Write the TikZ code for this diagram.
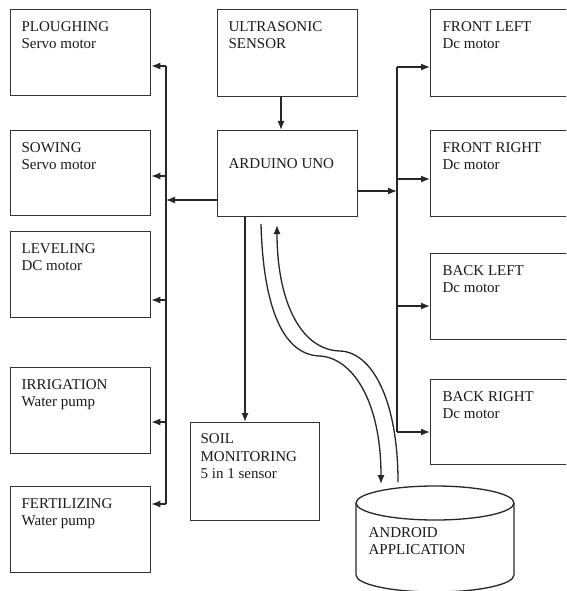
\documentclass[tikz,border=0pt]{standalone}
\usepackage{fontspec}
\setmainfont{Liberation Serif}
\usetikzlibrary{arrows.meta,calc}
\begin{document}
\begin{tikzpicture}[x=1pt,y=-1pt,line width=1.3pt,
  box/.style={draw=black!80, rectangle, inner sep=0pt, anchor=north west},
  txt/.style={inner sep=0pt, anchor=north west, align=left,
    font=\fontsize{15}{17.5}\selectfont, text=black!90},
  arr/.style={draw=black!85, -{Latex[length=9pt,width=7pt]}},
  ln/.style={draw=black!85}]
\useasboundingbox (0,0) rectangle (566,591);
\clip (0,0) rectangle (566,591);
% left column
\node[box, minimum width=140pt, minimum height=86pt] (plough) at (10,9) {};
\node[box, minimum width=140pt, minimum height=85pt] (sow) at (10,130) {};
\node[box, minimum width=140pt, minimum height=86pt] (level) at (10,231) {};
\node[box, minimum width=140pt, minimum height=86pt] (irrig) at (10,367) {};
\node[box, minimum width=140pt, minimum height=86pt] (fert) at (10,486) {};
% middle column
\node[box, minimum width=140pt, minimum height=87pt] (ultra) at (217,9) {};
\node[box, minimum width=140pt, minimum height=86pt] (ard) at (217,130) {};
\node[box, minimum width=129pt, minimum height=98pt] (soil) at (190,422) {};
% right column
\node[box, minimum width=150pt, minimum height=87pt] (fl) at (430,9) {};
\node[box, minimum width=150pt, minimum height=86pt] (fr) at (430,130) {};
\node[box, minimum width=150pt, minimum height=86pt] (bl) at (430,253) {};
\node[box, minimum width=150pt, minimum height=85pt] (br) at (430,379) {};
% texts
\node[txt] (tplough) at ([shift={(11,11.5)}]plough.north west) {PLOUGHING\\Servo motor};
\node[txt] (tsow) at ([shift={(11,11.5)}]sow.north west) {SOWING\\Servo motor};
\node[txt] (tlevel) at ([shift={(11,11.5)}]level.north west) {LEVELING\\DC motor};
\node[txt] (tirrig) at ([shift={(11,11.5)}]irrig.north west) {IRRIGATION\\Water pump};
\node[txt] (tfert) at ([shift={(11,11.5)}]fert.north west) {FERTILIZING\\Water pump};
\node[txt] (tultra) at ([shift={(11,11.5)}]ultra.north west) {ULTRASONIC\\SENSOR};
\node[txt] (tard) at ([shift={(11,28)}]ard.north west) {ARDUINO UNO};
\node[txt] (tsoil) at ([shift={(10,11)}]soil.north west) {SOIL\\MONITORING\\5 in 1 sensor};
\node[txt] (tfl) at ([shift={(12,11.5)}]fl.north west) {FRONT LEFT\\Dc motor};
\node[txt] (tfr) at ([shift={(12,11.5)}]fr.north west) {FRONT RIGHT\\Dc motor};
\node[txt] (tbl) at ([shift={(12,11.5)}]bl.north west) {BACK LEFT\\Dc motor};
\node[txt] (tbr) at ([shift={(12,11.5)}]br.north west) {BACK RIGHT\\Dc motor};
% android cylinder
\coordinate (andr) at (435,503);
\draw[ln] (andr) ellipse [x radius=79, y radius=17];
\draw[ln] (356,503) -- (356,575)
  .. controls (356,584.4) and (391.4,592) .. (435,592)
  .. controls (478.6,592) and (514,584.4) .. (514,575) -- (514,503);
\node[txt] (tandr) at (368,526.5) {ANDROID\\APPLICATION};
% ultrasonic -> arduino
\coordinate (ux) at (281,0);
\draw[arr] (ultra.south -| ux) -- (ard.north -| ux);
% left bus
\coordinate (lbus1) at (166,66);
\coordinate (lbus2) at (166,176);
\coordinate (lbus3) at (166,300);
\coordinate (lbus4) at (166,422);
\coordinate (lbus5) at (166,504);
\coordinate (lin) at (166,200);
\draw[ln] (lbus1) -- (lbus5);
\draw[arr] (ard.west |- lin) -- (lin);
\draw[arr] (lbus1) -- (plough.east |- lbus1);
\draw[arr] (lbus2) -- (sow.east |- lbus2);
\draw[arr] (lbus3) -- (level.east |- lbus3);
\draw[arr] (lbus4) -- (irrig.east |- lbus4);
\draw[arr] (lbus5) -- (fert.east |- lbus5);
% right bus
\coordinate (rbus1) at (397,67);
\coordinate (rbus2) at (397,179);
\coordinate (rbus3) at (397,306);
\coordinate (rbus4) at (397,432);
\coordinate (rin) at (397,191);
\draw[ln] (rbus1) -- (rbus4);
\draw[arr] (ard.east |- rin) -- (rin);
\draw[arr] (rbus1) -- (fl.west |- rbus1);
\draw[arr] (rbus2) -- (fr.west |- rbus2);
\draw[arr] (rbus3) -- (bl.west |- rbus3);
\draw[arr] (rbus4) -- (br.west |- rbus4);
% arduino -> soil
\coordinate (sx) at (245,0);
\draw[arr] (ard.south -| sx) -- (soil.north -| sx);
% arduino <-> android curves
\coordinate (c1s) at (261,224);
\coordinate (c1e) at (381,484);
\coordinate (c2s) at (398,482);
\coordinate (c2e) at (277,225);
\draw[arr] (c1s) .. controls (263,300) and (280,355) .. (320,356)
  .. controls (352,358) and (381,400) .. (c1e);
\draw[arr] (c2s) .. controls (398,400) and (372,352) .. (340,351)
  .. controls (300,350) and (277,300) .. (c2e);
\end{tikzpicture}
\end{document}
